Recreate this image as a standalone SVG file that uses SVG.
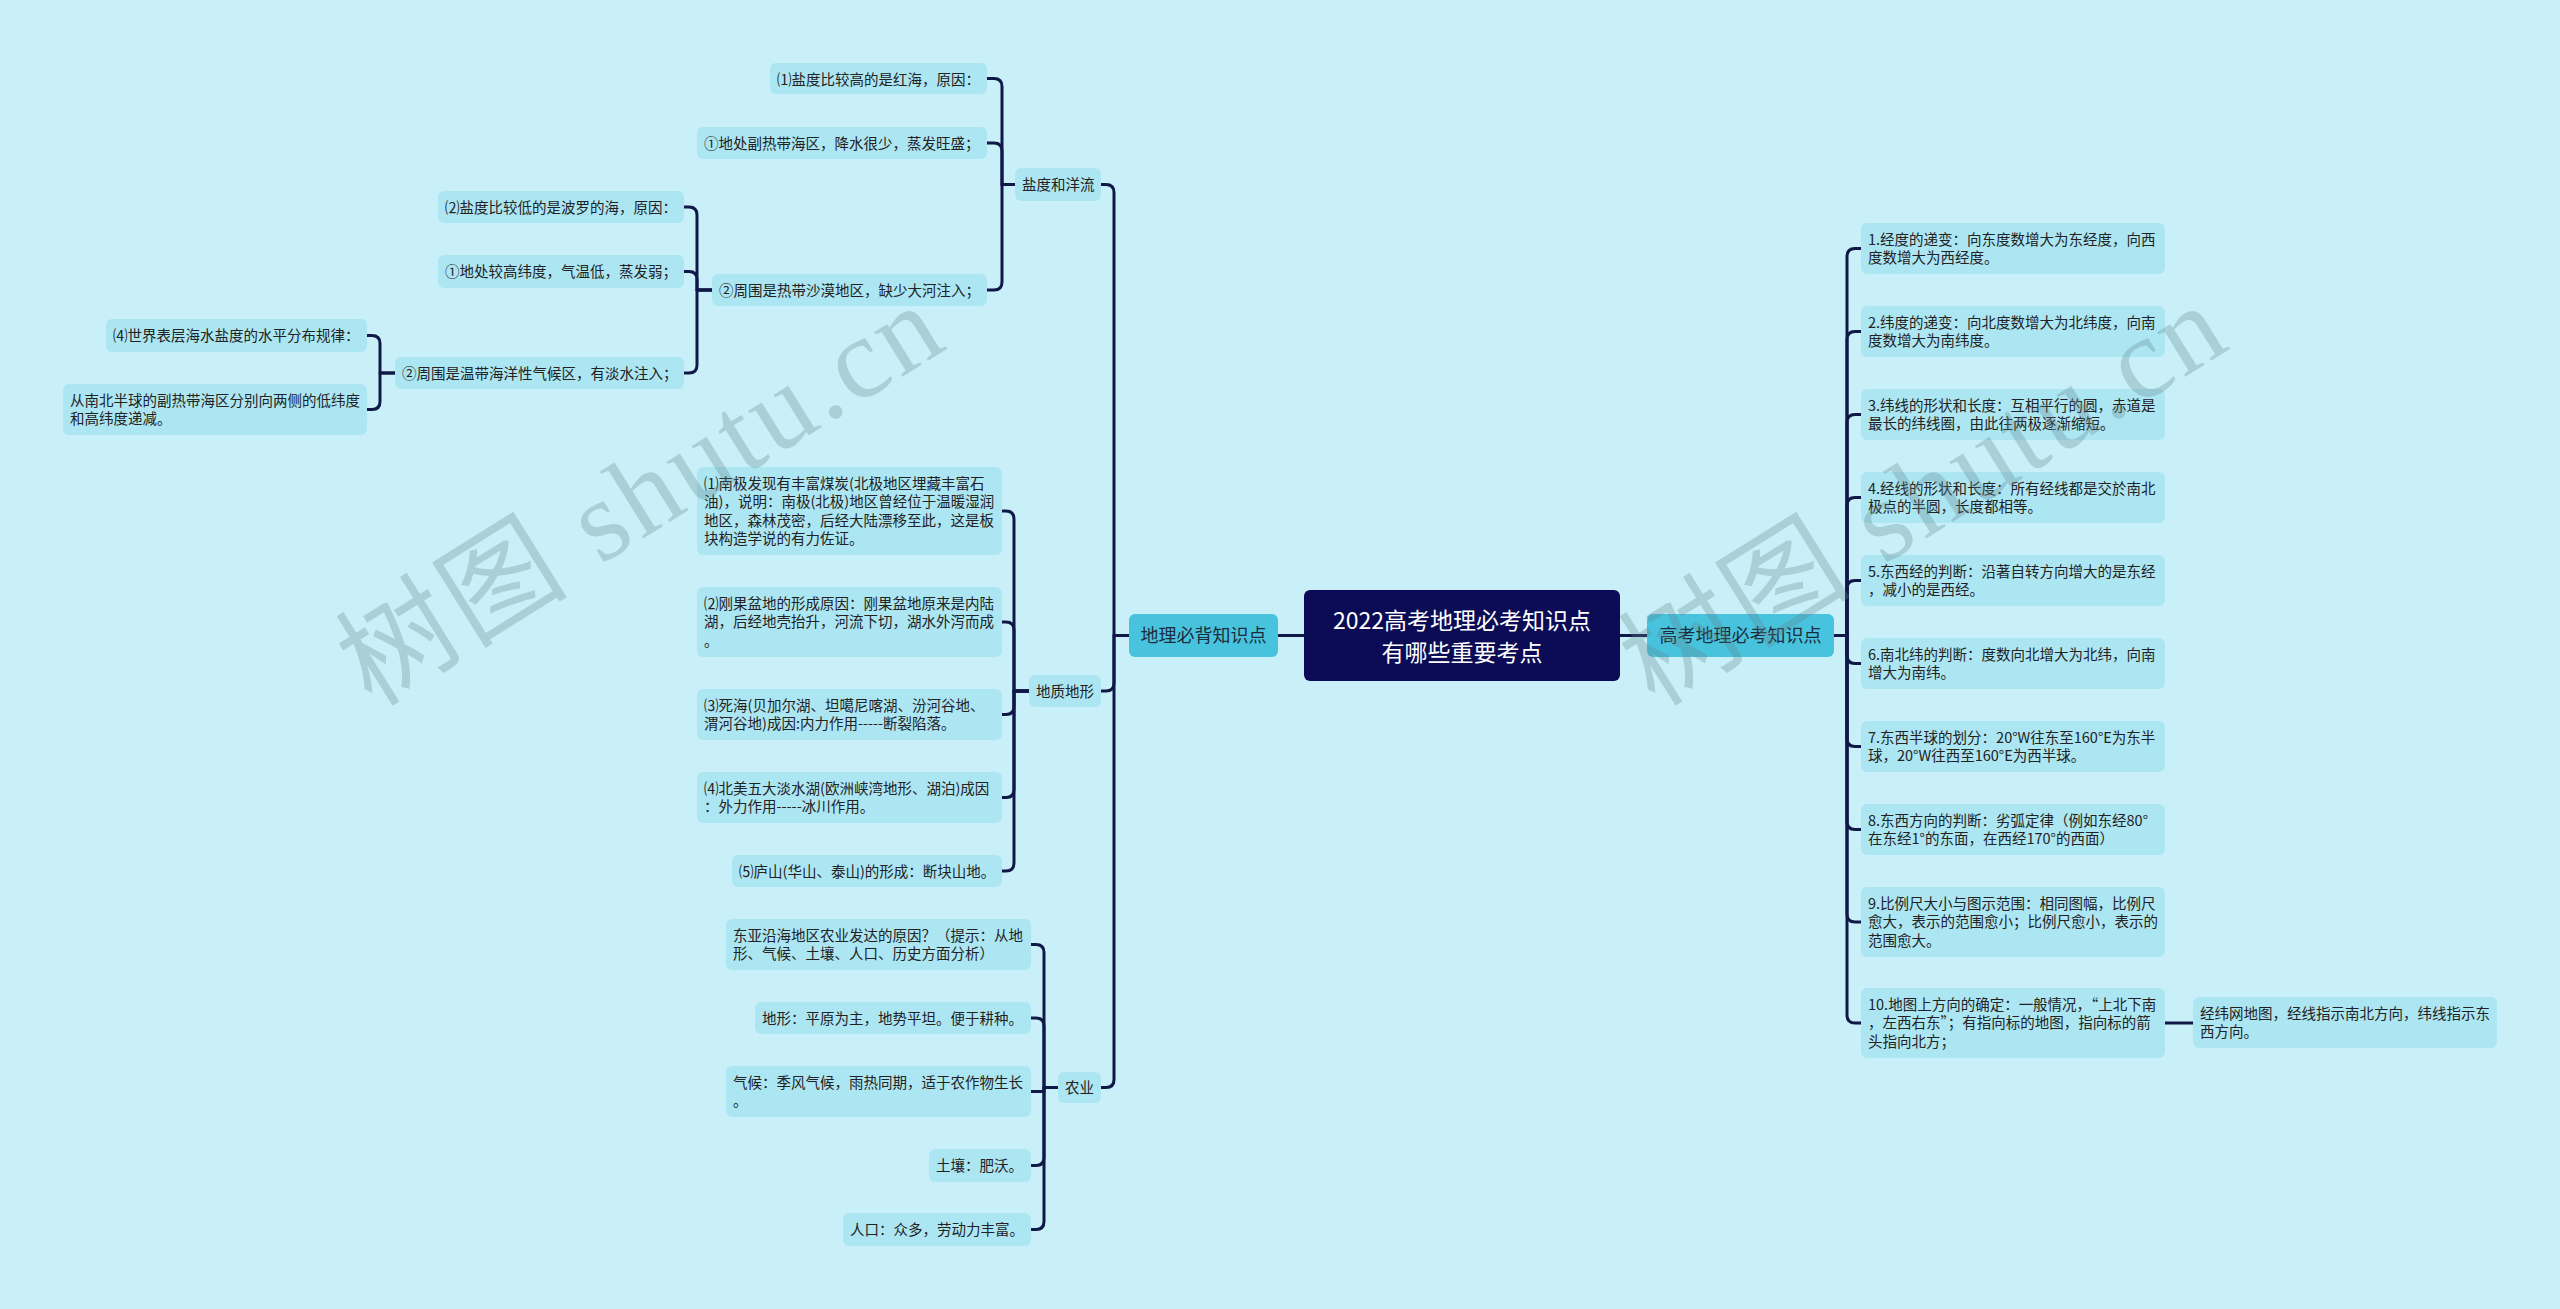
<svg xmlns="http://www.w3.org/2000/svg" width="2560" height="1309" viewBox="0 0 2560 1309">
<style>
.bg{fill:#c9f0f8}
.leaf{fill:#ade6f3}
.br{fill:#48c3de}
.title{fill:#0b0c55}
.c{fill:none;stroke:#101848;stroke-width:3;stroke-linecap:round;stroke-linejoin:round}
text{font-family:"Noto Sans CJK SC","Noto Sans",sans-serif;fill:#222}
.t{font-size:14.5px}
.bt{font-size:18px;text-anchor:middle;fill:#1c2b3a}
.tt{font-size:23px;text-anchor:middle;fill:#ffffff}
.wm{font-family:"Liberation Serif","Noto Sans CJK SC",serif;font-size:115px;fill:#5f858c;fill-opacity:0.3}
</style>
<rect class="bg" x="0" y="0" width="2560" height="1309"/>

<g id="connectors">
<path class="c" d="M1304 635.5H1278"/>
<path class="c" d="M1620 635.5H1647"/>
<path class="c" d="M1129 635.5H1114V192.5Q1114 184.5 1106 184.5H1101"/>
<path class="c" d="M1129 635.5H1114V683Q1114 691 1106 691H1101"/>
<path class="c" d="M1129 635.5H1114V1079.5Q1114 1087.5 1106 1087.5H1101"/>
<path class="c" d="M1015 184.5H1002V86.5Q1002 78.5 994 78.5H987"/>
<path class="c" d="M1015 184.5H1002V151Q1002 143 994 143H987"/>
<path class="c" d="M1015 184.5H1002V282Q1002 290 994 290H987"/>
<path class="c" d="M712 290H697V215Q697 207 689 207H684"/>
<path class="c" d="M712 290H697V279.5Q697 271.5 689 271.5H684"/>
<path class="c" d="M712 290H697V365Q697 373 689 373H684"/>
<path class="c" d="M395 373H380V343.5Q380 335.5 372 335.5H367"/>
<path class="c" d="M395 373H380V401.5Q380 409.5 372 409.5H367"/>
<path class="c" d="M1029 691H1014V519Q1014 511 1006 511H1002"/>
<path class="c" d="M1029 691H1014V630Q1014 622 1006 622H1002"/>
<path class="c" d="M1029 691H1014V706.5Q1014 714.5 1006 714.5H1002"/>
<path class="c" d="M1029 691H1014V789.5Q1014 797.5 1006 797.5H1002"/>
<path class="c" d="M1029 691H1014V863Q1014 871 1006 871H1002"/>
<path class="c" d="M1058 1087.5H1044V952.5Q1044 944.5 1036 944.5H1031"/>
<path class="c" d="M1058 1087.5H1044V1026Q1044 1018 1036 1018H1031"/>
<path class="c" d="M1058 1087.5H1044V1091.5H1031"/>
<path class="c" d="M1058 1087.5H1044V1157.5Q1044 1165.5 1036 1165.5H1031"/>
<path class="c" d="M1058 1087.5H1044V1221.5Q1044 1229.5 1036 1229.5H1031"/>
<path class="c" d="M1834 635.5H1847V256.5Q1847 248.5 1855 248.5H1861"/>
<path class="c" d="M1834 635.5H1847V339.5Q1847 331.5 1855 331.5H1861"/>
<path class="c" d="M1834 635.5H1847V422.5Q1847 414.5 1855 414.5H1861"/>
<path class="c" d="M1834 635.5H1847V505.5Q1847 497.5 1855 497.5H1861"/>
<path class="c" d="M1834 635.5H1847V588.5Q1847 580.5 1855 580.5H1861"/>
<path class="c" d="M1834 635.5H1847V655.5Q1847 663.5 1855 663.5H1861"/>
<path class="c" d="M1834 635.5H1847V738.5Q1847 746.5 1855 746.5H1861"/>
<path class="c" d="M1834 635.5H1847V821.5Q1847 829.5 1855 829.5H1861"/>
<path class="c" d="M1834 635.5H1847V914Q1847 922 1855 922H1861"/>
<path class="c" d="M1834 635.5H1847V1015Q1847 1023 1855 1023H1861"/>
<path class="c" d="M2165 1023H2193"/>
</g>

<g id="root"><rect class="title" x="1304" y="590" width="316" height="91" rx="6"/><text class="tt" x="1462" y="628.5">2022高考地理必考知识点</text><text class="tt" x="1462" y="660.5">有哪些重要考点</text></g>

<g id="b-left"><rect class="br" x="1129" y="614" width="149" height="43" rx="6"/><text class="bt" x="1203.5" y="642">地理必背知识点</text></g>
<g id="b-right"><rect class="br" x="1647" y="614" width="187" height="43" rx="6"/><text class="bt" x="1740.5" y="642">高考地理必考知识点</text></g>

<g id="s-salt"><rect class="leaf" x="1015" y="168" width="86" height="33" rx="6"/><text class="t" x="1022" y="190">盐度和洋流</text></g>
<g id="s-geo"><rect class="leaf" x="1029" y="675" width="72" height="32" rx="6"/><text class="t" x="1036" y="696.5">地质地形</text></g>
<g id="s-agri"><rect class="leaf" x="1058" y="1072" width="43" height="31" rx="6"/><text class="t" x="1065" y="1093">农业</text></g>

<g id="n-s1a"><rect class="leaf" x="770" y="63" width="217" height="31" rx="6"/><text class="t" x="777" y="84.5">⑴盐度比较高的是红海，原因：</text></g>
<g id="n-s1b"><rect class="leaf" x="697" y="127" width="290" height="32" rx="6"/><text class="t" x="704" y="148.8">①地处副热带海区，降水很少，蒸发旺盛；</text></g>
<g id="n-s1c"><rect class="leaf" x="712" y="274" width="275" height="32" rx="6"/><text class="t" x="719" y="295.8">②周围是热带沙漠地区，缺少大河注入；</text></g>
<g id="n-c1"><rect class="leaf" x="438" y="191" width="246" height="32" rx="6"/><text class="t" x="445" y="212.8">⑵盐度比较低的是波罗的海，原因：</text></g>
<g id="n-c2"><rect class="leaf" x="438" y="255" width="246" height="33" rx="6"/><text class="t" x="445" y="277.3">①地处较高纬度，气温低，蒸发弱；</text></g>
<g id="n-c3"><rect class="leaf" x="395" y="357" width="289" height="32" rx="6"/><text class="t" x="402" y="378.8">②周围是温带海洋性气候区，有淡水注入；</text></g>
<g id="n-d1"><rect class="leaf" x="106" y="319" width="261" height="33" rx="6"/><text class="t" x="113" y="341.3">⑷世界表层海水盐度的水平分布规律：</text></g>
<g id="n-d2"><rect class="leaf" x="63" y="384" width="304" height="51" rx="6"/><text class="t" x="70" y="405.8">从南北半球的副热带海区分别向两侧的低纬度</text><text class="t" x="70" y="424.3">和高纬度递减。</text></g>

<g id="n-g1"><rect class="leaf" x="697" y="467" width="305" height="88" rx="6"/><text class="t" x="704" y="488.8">⑴南极发现有丰富煤炭(北极地区埋藏丰富石</text><text class="t" x="704" y="507.3">油)，说明：南极(北极)地区曾经位于温暖湿润</text><text class="t" x="704" y="525.8">地区，森林茂密，后经大陆漂移至此，这是板</text><text class="t" x="704" y="544.3">块构造学说的有力佐证。</text></g>
<g id="n-g2"><rect class="leaf" x="697" y="587" width="305" height="70" rx="6"/><text class="t" x="704" y="608.8">⑵刚果盆地的形成原因：刚果盆地原来是内陆</text><text class="t" x="704" y="627.3">湖，后经地壳抬升，河流下切，湖水外泻而成</text><text class="t" x="704" y="645.8">。</text></g>
<g id="n-g3"><rect class="leaf" x="697" y="689" width="305" height="51" rx="6"/><text class="t" x="704" y="710.8">⑶死海(贝加尔湖、坦噶尼喀湖、汾河谷地、</text><text class="t" x="704" y="729.3">渭河谷地)成因:内力作用-----断裂陷落。</text></g>
<g id="n-g4"><rect class="leaf" x="697" y="772" width="305" height="51" rx="6"/><text class="t" x="704" y="793.8">⑷北美五大淡水湖(欧洲峡湾地形、湖泊)成因</text><text class="t" x="704" y="812.3">：外力作用-----冰川作用。</text></g>
<g id="n-g5"><rect class="leaf" x="732" y="855" width="270" height="32" rx="6"/><text class="t" x="739" y="876.8">⑸庐山(华山、泰山)的形成：断块山地。</text></g>

<g id="n-a1"><rect class="leaf" x="726" y="919" width="305" height="51" rx="6"/><text class="t" x="733" y="940.8">东亚沿海地区农业发达的原因？（提示：从地</text><text class="t" x="733" y="959.3">形、气候、土壤、人口、历史方面分析）</text></g>
<g id="n-a2"><rect class="leaf" x="755" y="1002" width="276" height="32" rx="6"/><text class="t" x="762" y="1023.8">地形：平原为主，地势平坦。便于耕种。</text></g>
<g id="n-a3"><rect class="leaf" x="726" y="1066" width="305" height="51" rx="6"/><text class="t" x="733" y="1087.8">气候：季风气候，雨热同期，适于农作物生长</text><text class="t" x="733" y="1106.3">。</text></g>
<g id="n-a4"><rect class="leaf" x="929" y="1149" width="102" height="33" rx="6"/><text class="t" x="936" y="1171.3">土壤：肥沃。</text></g>
<g id="n-a5"><rect class="leaf" x="843" y="1213" width="188" height="33" rx="6"/><text class="t" x="850" y="1235.3">人口：众多，劳动力丰富。</text></g>

<g id="n-r1"><rect class="leaf" x="1861" y="223" width="304" height="51" rx="6"/><text class="t" x="1868" y="244.8">1.经度的递变：向东度数增大为东经度，向西</text><text class="t" x="1868" y="263.3">度数增大为西经度。</text></g>
<g id="n-r2"><rect class="leaf" x="1861" y="306" width="304" height="51" rx="6"/><text class="t" x="1868" y="327.8">2.纬度的递变：向北度数增大为北纬度，向南</text><text class="t" x="1868" y="346.3">度数增大为南纬度。</text></g>
<g id="n-r3"><rect class="leaf" x="1861" y="389" width="304" height="51" rx="6"/><text class="t" x="1868" y="410.8">3.纬线的形状和长度：互相平行的圆，赤道是</text><text class="t" x="1868" y="429.3">最长的纬线圈，由此往两极逐渐缩短。</text></g>
<g id="n-r4"><rect class="leaf" x="1861" y="472" width="304" height="51" rx="6"/><text class="t" x="1868" y="493.8">4.经线的形状和长度：所有经线都是交於南北</text><text class="t" x="1868" y="512.3">极点的半圆，长度都相等。</text></g>
<g id="n-r5"><rect class="leaf" x="1861" y="555" width="304" height="51" rx="6"/><text class="t" x="1868" y="576.8">5.东西经的判断：沿著自转方向增大的是东经</text><text class="t" x="1868" y="595.3">，减小的是西经。</text></g>
<g id="n-r6"><rect class="leaf" x="1861" y="638" width="304" height="51" rx="6"/><text class="t" x="1868" y="659.8">6.南北纬的判断：度数向北增大为北纬，向南</text><text class="t" x="1868" y="678.3">增大为南纬。</text></g>
<g id="n-r7"><rect class="leaf" x="1861" y="721" width="304" height="51" rx="6"/><text class="t" x="1868" y="742.8">7.东西半球的划分：20°W往东至160°E为东半</text><text class="t" x="1868" y="761.3">球，20°W往西至160°E为西半球。</text></g>
<g id="n-r8"><rect class="leaf" x="1861" y="804" width="304" height="51" rx="6"/><text class="t" x="1868" y="825.8">8.东西方向的判断：劣弧定律（例如东经80°</text><text class="t" x="1868" y="844.3">在东经1°的东面，在西经170°的西面）</text></g>
<g id="n-r9"><rect class="leaf" x="1861" y="887" width="304" height="70" rx="6"/><text class="t" x="1868" y="908.8">9.比例尺大小与图示范围：相同图幅，比例尺</text><text class="t" x="1868" y="927.3">愈大，表示的范围愈小；比例尺愈小，表示的</text><text class="t" x="1868" y="945.8">范围愈大。</text></g>
<g id="n-r10"><rect class="leaf" x="1861" y="988" width="304" height="70" rx="6"/><text class="t" x="1868" y="1009.8">10.地图上方向的确定：一般情况，“上北下南</text><text class="t" x="1868" y="1028.3">，左西右东”；有指向标的地图，指向标的箭</text><text class="t" x="1868" y="1046.8">头指向北方；</text></g>
<g id="n-r11"><rect class="leaf" x="2193" y="997" width="304" height="51" rx="6"/><text class="t" x="2200" y="1018.8">经纬网地图，经线指示南北方向，纬线指示东</text><text class="t" x="2200" y="1037.3">西方向。</text></g>

<text class="wm" x="372" y="708" transform="rotate(-32 372 708)" textLength="680" lengthAdjust="spacing">树图 shutu.cn</text>
<text class="wm" x="1655" y="708" transform="rotate(-32 1655 708)" textLength="680" lengthAdjust="spacing">树图 shutu.cn</text>
</svg>
